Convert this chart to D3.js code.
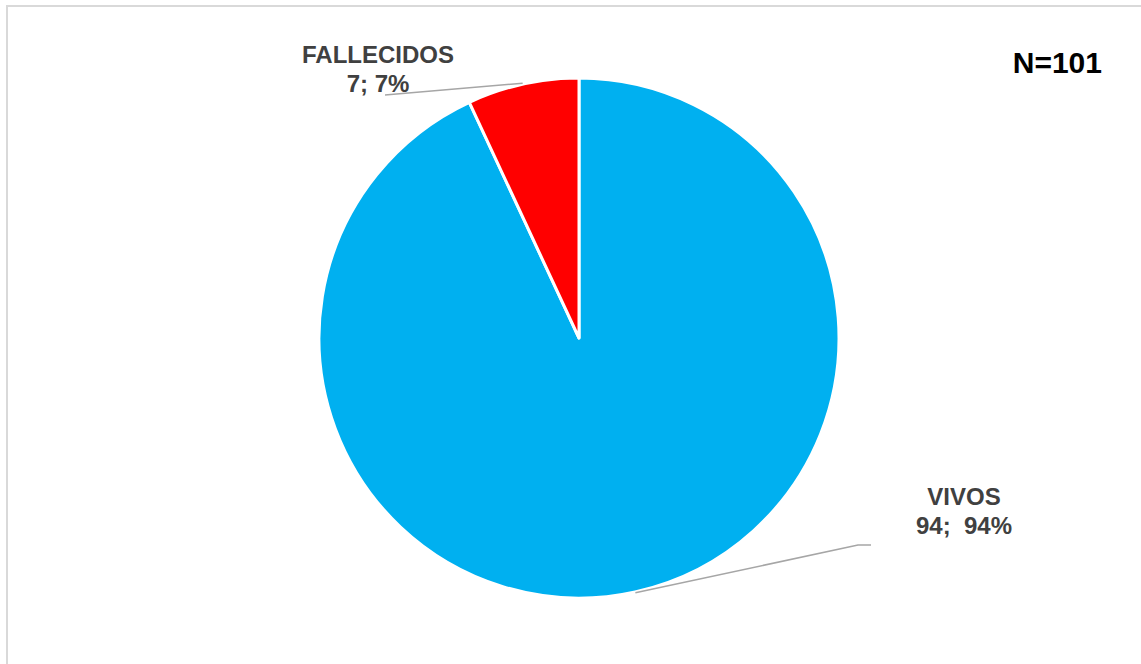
<!DOCTYPE html>
<html>
<head>
<meta charset="utf-8">
<script src="https://cdn.jsdelivr.net/npm/d3@7"></script>
<style>
  body { margin: 0; background: #fff; }
  svg { display: block; font-family: Arial, "Liberation Sans", sans-serif; }
</style>
</head>
<body>
<svg id="chart"></svg>
<script>
// data
const categories = ['VIVOS', 'FALLECIDOS'];
const counts = [94, 7];
const valueLabels = ['94;  94%', '7; 7%'];
const colors = ['#00B0F0', '#FF0000'];
const totalLabel = 'N=101';

const config = {
    width: 1141,
    height: 664,
    cx: 579,
    cy: 338,
    radius: 260
};

const svg = d3.select('#chart')
    .attr('width', config.width)
    .attr('height', config.height);

// chart area border (right/bottom edges fall outside the frame)
svg.append('rect')
    .attr('x', 7)
    .attr('y', 6)
    .attr('width', 1160)
    .attr('height', 700)
    .attr('fill', 'none')
    .attr('stroke', '#d9d9d9')
    .attr('stroke-width', 2);

const data = categories.map((c, i) => ({ name: c, value: counts[i], label: valueLabels[i], color: colors[i] }));

const pie = d3.pie()
    .value(d => d.value)
    .sort(null);

const arc = d3.arc()
    .innerRadius(0)
    .outerRadius(config.radius);

const arcs = pie(data);

const g = svg.append('g')
    .attr('transform', `translate(${config.cx},${config.cy})`);

g.selectAll('path.slice')
    .data(arcs)
    .join('path')
    .attr('class', 'slice')
    .attr('d', arc)
    .attr('fill', d => d.data.color)
    .attr('stroke', '#fff')
    .attr('stroke-width', 3)
    .attr('stroke-linejoin', 'round');

// label positions (relative to pie centre) and leader line ends
const labelLayout = {
    VIVOS:      { x: 385, y: 167, bend: [279, 207], end: [292, 207] },
    FALLECIDOS: { x: -201, y: -275, bend: null, end: [-194, -243] }
};

const leaderR = config.radius + 1;
arcs.forEach(d => {
    const a = (d.startAngle + d.endAngle) / 2;
    const start = [leaderR * Math.sin(a), -leaderR * Math.cos(a)];
    const L = labelLayout[d.data.name];
    const pts = [start];
    if (L.bend) pts.push(L.bend);
    pts.push(L.end);

    g.append('path')
        .attr('d', d3.line()(pts))
        .attr('fill', 'none')
        .attr('stroke', '#a6a6a6')
        .attr('stroke-width', 1.5);

    const t = g.append('text')
        .attr('text-anchor', 'middle')
        .attr('fill', '#404040')
        .attr('font-weight', 'bold')
        .attr('font-size', 24)
        .style('white-space', 'pre');
    t.append('tspan')
        .attr('x', L.x)
        .attr('y', L.y)
        .text(d.data.name);
    t.append('tspan')
        .attr('x', L.x)
        .attr('y', L.y + 29)
        .text(d.data.label);
});

svg.append('text')
    .attr('x', 1102)
    .attr('y', 73)
    .attr('text-anchor', 'end')
    .attr('font-weight', 'bold')
    .attr('font-size', 30)
    .attr('fill', '#000')
    .text(totalLabel);
</script>
</body>
</html>
